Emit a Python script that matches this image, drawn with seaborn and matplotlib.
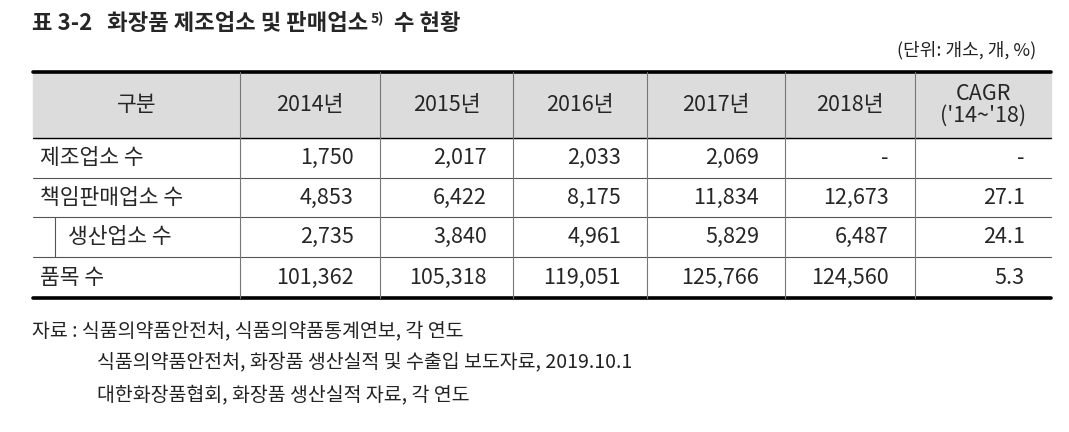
import matplotlib
matplotlib.use("Agg")
import matplotlib.pyplot as plt
import seaborn as sns

sns.set_style("white")
FONT = "Noto Sans CJK KR"
plt.rcParams["font.family"] = FONT

title = "표 3-2   화장품 제조업소 및 판매업소"
unit = "(단위: 개소, 개, %)"
headers = ["구분", "2014년", "2015년", "2016년", "2017년", "2018년", "CAGR\n('14~'18)"]
row_labels = ["제조업소 수", "책임판매업소 수", "생산업소 수", "품목 수"]
values = [
    ["1,750", "2,017", "2,033", "2,069", "-", "-"],
    ["4,853", "6,422", "8,175", "11,834", "12,673", "27.1"],
    ["2,735", "3,840", "4,961", "5,829", "6,487", "24.1"],
    ["101,362", "105,318", "119,051", "125,766", "124,560", "5.3"],
]
notes = ["자료 : 식품의약품안전처, 식품의약품통계연보, 각 연도",
         "식품의약품안전처, 화장품 생산실적 및 수출입 보도자료, 2019.10.1",
         "대한화장품협회, 화장품 생산실적 자료, 각 연도"]

W, H = 1069, 432
fig = plt.figure(figsize=(W / 100, H / 100), dpi=100)
ax = fig.add_axes([0, 0, 1, 1])
ax.set_xlim(0, W)
ax.set_ylim(H, 0)
ax.axis("off")

cols = [33, 240, 380, 513, 647, 785, 915, 1051]
rows = [72, 138, 178, 217, 257, 298]

ax.fill_between([cols[0], cols[-1]], rows[0], rows[1], color="#dcdcdc", zorder=0)

# title with superscript placed after measured text
t = ax.text(32, 24, title, fontsize=16, fontweight="bold", va="center", ha="left")
fig.canvas.draw()
r = fig.canvas.get_renderer()
bb = t.get_window_extent(r)
xend = bb.x1
s = ax.text(xend + 2, 19, "5)", fontsize=10, fontweight="bold", va="center", ha="left")
bb2 = s.get_window_extent(r)
ax.text(bb2.x1 + 10, 24, "수 현황", fontsize=16, fontweight="bold", va="center", ha="left")
ax.text(1036, 50, unit, fontsize=13, va="center", ha="right", color="#222222")

ax.plot([cols[0], cols[-1]], [rows[0], rows[0]], color="black", lw=2.6)
ax.plot([cols[0], cols[-1]], [rows[-1], rows[-1]], color="black", lw=2.6)
ax.plot([cols[0], cols[-1]], [rows[1], rows[1]], color="black", lw=1.0)
for y in rows[2:-1]:
    ax.plot([cols[0], cols[-1]], [y, y], color="#555555", lw=0.8)
ax.plot([55, 55], [rows[3], rows[4]], color="#555555", lw=0.8)
for x in cols[1:-1]:
    ax.plot([x, x], [rows[0], rows[-1]], color="#777777", lw=0.8)

for i, h in enumerate(headers):
    cx = (cols[i] + cols[i + 1]) / 2
    ax.text(cx, (rows[0] + rows[1]) / 2, h, fontsize=15.5, ha="center", va="center",
            linespacing=1.0)

for ri, lab in enumerate(row_labels):
    cy = (rows[ri + 1] + rows[ri + 2]) / 2
    lx = 68 if ri == 2 else 40
    ax.text(lx, cy, lab, fontsize=15.5, ha="left", va="center")
    for c, v in enumerate(values[ri]):
        ax.text(cols[c + 2] - 26, cy, v, fontsize=15.5, ha="right", va="center")

ax.text(32, 331, notes[0], fontsize=14, ha="left", va="center", color="#222222")
ax.text(97, 363, notes[1], fontsize=14, ha="left", va="center", color="#222222")
ax.text(97, 396, notes[2], fontsize=14, ha="left", va="center", color="#222222")

fig.savefig("out.png", dpi=100)
